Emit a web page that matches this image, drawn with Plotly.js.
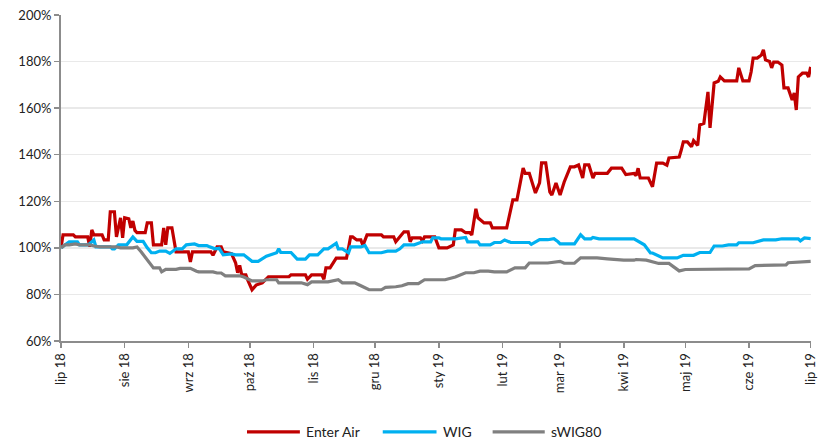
<!DOCTYPE html>
<html>
<head>
<meta charset="utf-8">
<script src="https://cdn.plot.ly/plotly-3.0.1.min.js"></script>
<style>
html,body{margin:0;padding:0;background:#fff;}
#chart{width:819px;height:443px;}
</style>
</head>
<body>
<div id="chart"></div>
<script>
// Month tick positions and Polish labels
const monthTicks = ['2018-07-01','2018-08-01','2018-09-01','2018-10-01','2018-11-01','2018-12-01','2019-01-01','2019-02-01','2019-03-01','2019-04-01','2019-05-01','2019-06-01','2019-07-01'];
const monthLabels = ['lip 18','sie 18','wrz 18','paź 18','lis 18','gru 18','sty 19','lut 19','mar 19','kwi 19','maj 19','cze 19','lip 19'];

// Enter Air (%)
const enterDates = ['2018-07-01','2018-07-02','2018-07-07','2018-07-08','2018-07-14','2018-07-15','2018-07-16','2018-07-17','2018-07-21','2018-07-22','2018-07-24','2018-07-25','2018-07-27','2018-07-28','2018-07-30','2018-07-31','2018-08-01','2018-08-03','2018-08-04','2018-08-05','2018-08-06','2018-08-07','2018-08-11','2018-08-12','2018-08-14','2018-08-15','2018-08-19','2018-08-20','2018-08-21','2018-08-22','2018-08-24','2018-08-26','2018-09-01','2018-09-02','2018-09-03','2018-09-12','2018-09-13','2018-09-15','2018-09-17','2018-09-18','2018-09-22','2018-09-24','2018-09-25','2018-09-26','2018-09-27','2018-09-29','2018-09-30','2018-10-02','2018-10-04','2018-10-07','2018-10-10','2018-10-20','2018-10-21','2018-10-28','2018-10-29','2018-10-31','2018-11-05','2018-11-06','2018-11-07','2018-11-09','2018-11-12','2018-11-17','2018-11-18','2018-11-19','2018-11-20','2018-11-22','2018-11-24','2018-11-25','2018-11-27','2018-12-04','2018-12-05','2018-12-10','2018-12-11','2018-12-15','2018-12-17','2018-12-18','2018-12-19','2018-12-23','2018-12-24','2018-12-25','2018-12-30','2019-01-01','2019-01-05','2019-01-08','2019-01-09','2019-01-12','2019-01-14','2019-01-16','2019-01-17','2019-01-19','2019-01-20','2019-01-21','2019-01-23','2019-01-26','2019-01-27','2019-02-03','2019-02-06','2019-02-08','2019-02-10','2019-02-11','2019-02-12','2019-02-14','2019-02-17','2019-02-19','2019-02-20','2019-02-22','2019-02-24','2019-02-25','2019-02-27','2019-03-01','2019-03-03','2019-03-06','2019-03-08','2019-03-10','2019-03-12','2019-03-13','2019-03-15','2019-03-17','2019-03-18','2019-03-24','2019-03-26','2019-03-31','2019-04-02','2019-04-06','2019-04-07','2019-04-08','2019-04-09','2019-04-13','2019-04-15','2019-04-17','2019-04-20','2019-04-22','2019-04-23','2019-04-28','2019-04-29','2019-04-30','2019-05-02','2019-05-04','2019-05-05','2019-05-07','2019-05-08','2019-05-10','2019-05-12','2019-05-13','2019-05-15','2019-05-17','2019-05-18','2019-05-20','2019-05-26','2019-05-27','2019-05-29','2019-06-01','2019-06-02','2019-06-03','2019-06-05','2019-06-07','2019-06-08','2019-06-09','2019-06-11','2019-06-12','2019-06-13','2019-06-15','2019-06-17','2019-06-18','2019-06-20','2019-06-22','2019-06-23','2019-06-24','2019-06-25','2019-06-27','2019-06-29','2019-06-30','2019-07-01'];
const enterVals = [100,105.6,105.6,104.7,104.7,100.5,107.7,105.6,105.6,103.4,103.4,115.5,115.5,104.7,112.9,104.3,112.9,112.5,108.6,111.5,107.5,106.5,106.5,110.7,110.7,101.3,101.3,108.6,101.3,108.6,108.6,98.3,98.3,94,98.3,98.3,96.8,100.4,100.4,98.3,97.5,93.6,89.3,92.5,88.4,88.4,86,82,84,85,87.6,87.6,88.4,88.4,86.5,88.4,88.4,86.5,91.4,91.4,95.6,95.6,100,104.7,104.7,103.4,103.4,101,105.6,105.6,104.7,104.7,102.6,106.9,106.9,102.6,104.3,104.3,103,104.7,104.7,100,100,101.3,107.7,107.7,106.5,106.5,105.5,116.8,112.9,112,110.7,110.7,108.6,108.6,120.6,120.6,130.5,134.3,132,132,123.6,127.9,136.5,136.5,124,122.7,127.9,122.7,128.3,134.8,134.8,135.6,130,135.6,135.6,130,132,132,134.2,134.2,131.5,132,131,134.2,130,130,126.2,136.4,136.4,135.5,138.6,139,142,145.5,145.5,143.4,146,144,152.8,153.5,167,151.5,170.8,171.5,173.4,171.7,171.7,177.3,171.7,171.7,175.5,181.5,181.5,182.8,185,180.7,180,177.3,179.8,179.8,178.5,168.7,168.7,163.5,166.5,159.2,173.4,175,175,173.4,177.7];

// WIG (%)
const wigDates = ['2018-07-01','2018-07-03','2018-07-05','2018-07-09','2018-07-10','2018-07-14','2018-07-15','2018-07-17','2018-07-18','2018-07-25','2018-07-26','2018-07-27','2018-07-29','2018-08-02','2018-08-05','2018-08-07','2018-08-10','2018-08-12','2018-08-14','2018-08-16','2018-08-18','2018-08-21','2018-08-23','2018-08-26','2018-08-29','2018-08-31','2018-09-04','2018-09-06','2018-09-10','2018-09-11','2018-09-14','2018-09-16','2018-09-18','2018-09-22','2018-09-24','2018-09-28','2018-10-02','2018-10-05','2018-10-09','2018-10-14','2018-10-15','2018-10-16','2018-10-21','2018-10-24','2018-10-28','2018-10-30','2018-11-03','2018-11-06','2018-11-08','2018-11-12','2018-11-13','2018-11-15','2018-11-18','2018-11-19','2018-11-24','2018-11-26','2018-11-28','2018-12-04','2018-12-07','2018-12-11','2018-12-13','2018-12-15','2018-12-20','2018-12-24','2018-12-28','2018-12-29','2019-01-01','2019-01-02','2019-01-09','2019-01-14','2019-01-15','2019-01-20','2019-01-21','2019-01-26','2019-01-28','2019-01-31','2019-02-02','2019-02-05','2019-02-14','2019-02-15','2019-02-19','2019-02-23','2019-02-26','2019-02-28','2019-03-01','2019-03-08','2019-03-11','2019-03-13','2019-03-16','2019-03-17','2019-03-20','2019-04-06','2019-04-07','2019-04-11','2019-04-14','2019-04-15','2019-04-20','2019-04-27','2019-04-30','2019-05-05','2019-05-08','2019-05-13','2019-05-15','2019-05-19','2019-05-22','2019-05-26','2019-05-27','2019-06-03','2019-06-08','2019-06-14','2019-06-17','2019-06-25','2019-06-26','2019-06-28','2019-07-01'];
const wigVals = [100,101.3,102.6,102.6,101.3,101.3,101.8,103.4,100.4,100.4,99.6,99.6,101.3,101.3,104.7,102.8,102.8,100,97.9,97.9,98.6,98.6,97.6,99.6,99.6,101.3,101.7,101,101,100.6,99.6,99.8,97,97.4,97,97,94.2,94.2,96.4,97.9,99.6,98,98,95.2,95.2,97,97,99.6,99.6,102,99.6,99.6,97.9,100.4,100.4,101,97.9,97.9,98.6,98.6,99.6,101.3,101.3,102.6,102.6,104.3,104.3,103.9,103.9,104.5,102.6,102.6,101.3,101.3,102.3,102.3,103.4,102.3,102.3,101.5,103.5,103.5,103.9,102.6,101.7,101.7,105.6,103.9,103.9,104.5,103.9,103.9,103.4,101.3,97.8,97.8,95.7,95.7,96.8,96.8,98,98,100.8,100.8,101.3,101.3,102.2,102.2,103.4,103.4,103.9,103.9,103,104.3,104];

// sWIG80 (%)
const swigDates = ['2018-07-01','2018-07-03','2018-07-05','2018-07-08','2018-07-10','2018-07-15','2018-07-17','2018-07-20','2018-07-28','2018-07-30','2018-08-05','2018-08-07','2018-08-09','2018-08-12','2018-08-15','2018-08-18','2018-08-19','2018-08-21','2018-08-26','2018-08-28','2018-09-02','2018-09-05','2018-09-06','2018-09-13','2018-09-15','2018-09-17','2018-09-19','2018-09-26','2018-09-28','2018-10-02','2018-10-07','2018-10-09','2018-10-14','2018-10-15','2018-10-26','2018-10-29','2018-10-31','2018-11-08','2018-11-12','2018-11-13','2018-11-15','2018-11-21','2018-11-24','2018-11-28','2018-12-04','2018-12-06','2018-12-11','2018-12-14','2018-12-17','2018-12-22','2018-12-25','2019-01-04','2019-01-09','2019-01-14','2019-01-18','2019-01-21','2019-01-25','2019-01-28','2019-02-03','2019-02-07','2019-02-12','2019-02-14','2019-02-23','2019-02-26','2019-03-01','2019-03-03','2019-03-08','2019-03-11','2019-03-19','2019-03-24','2019-04-01','2019-04-06','2019-04-07','2019-04-12','2019-04-15','2019-04-18','2019-04-23','2019-04-28','2019-05-01','2019-05-26','2019-05-27','2019-06-01','2019-06-04','2019-06-09','2019-06-11','2019-06-19','2019-06-20','2019-07-01'];
const swigVals = [100,101.3,101.3,101.7,101.3,101.3,100.8,100.4,100.4,100,100,100.4,98.3,94.8,91.4,91.4,89.7,90.8,90.8,91.2,91.2,90,89.7,89.7,89.2,89.2,88,88,87.5,85.8,85.8,86.3,86.3,85,85,84.2,85.4,85.4,86.3,86.3,85,85,83.7,82,82,83,83.3,83.7,84.6,84.6,86.3,86.3,87.5,89.3,89.3,90,90,89.7,89.7,91.4,91.4,93.5,93.5,94,94.2,93.4,93.4,95.7,95.7,95.3,94.7,94.7,95,94.7,94,93.3,93.3,90.1,90.7,90.7,91,91,92.4,92.4,92.7,92.7,93.6,94.2];

const names = ['Enter Air','WIG','sWIG80'];
const colors = ['#C00000','#00B0F0','#808080'];

const traces = [
  {x: enterDates, y: enterVals, name: names[0]},
  {x: wigDates, y: wigVals, name: names[1]},
  {x: swigDates, y: swigVals, name: names[2]}
].map((t, i) => Object.assign(t, {
  type: 'scatter', mode: 'lines',
  line: {color: colors[i], width: 3.2, shape: 'linear'},
  hoverinfo: 'skip', showlegend: false
}));

// Manual legend (paper coordinates below the plot area)
const legX = [[0.2480, 0.3185], [0.4290, 0.5007], [0.5755, 0.6450]];
const legY = -0.279;
const shapes = legX.map((p, i) => ({
  type: 'line', xref: 'paper', yref: 'paper',
  x0: p[0], x1: p[1], y0: legY, y1: legY,
  line: {color: colors[i], width: 3.3}
}));
const annotations = legX.map((p, i) => ({
  xref: 'paper', yref: 'paper', x: p[1] + 0.006, y: legY,
  xanchor: 'left', yanchor: 'middle', showarrow: false,
  text: names[i], font: {size: 14, color: '#222'}
}));

const layout = {
  width: 819, height: 443,
  margin: {l: 61, r: 8, t: 15, b: 102},
  paper_bgcolor: '#fff', plot_bgcolor: '#fff',
  font: {family: 'Lato, "Open Sans", sans-serif', size: 12, color: '#222'},
  showlegend: false,
  shapes: shapes,
  annotations: annotations,
  xaxis: {
    type: 'date', range: ['2018-07-01', '2019-07-01 04:00'],
    tickmode: 'array', tickvals: monthTicks, ticktext: monthLabels,
    tickangle: -90, ticks: 'outside', ticklen: 5, tickcolor: '#8c8c8c', tickwidth: 1.5,
    ticklabeloverflow: 'allow',
    showline: true, linecolor: '#8c8c8c', linewidth: 2,
    showgrid: false, zeroline: false, fixedrange: true, automargin: false,
    tickfont: {size: 13, color: '#222'}
  },
  yaxis: {
    range: [60, 200], dtick: 20, tick0: 60, ticksuffix: '%',
    ticks: 'outside', ticklen: 5, tickcolor: '#8c8c8c', tickwidth: 1.5,
    showline: true, linecolor: '#8c8c8c', linewidth: 2,
    showgrid: true, gridcolor: '#e9e9e9', gridwidth: 1.5,
    zeroline: false, fixedrange: true, automargin: false,
    tickfont: {size: 13, color: '#222'}
  }
};

Plotly.newPlot('chart', traces, layout, {displayModeBar: false, staticPlot: true});
</script>
</body>
</html>
